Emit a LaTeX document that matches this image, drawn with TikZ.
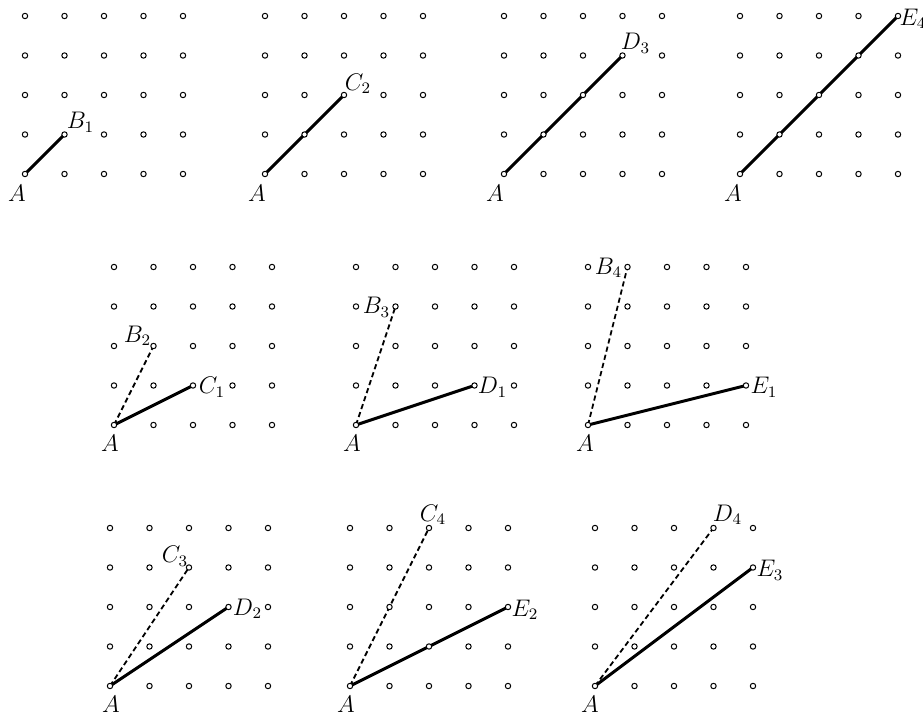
\documentclass[tikz,border=0pt]{standalone}
\newcommand\mkgrid[3]{%
  \foreach \i in {0,...,4}{\foreach \j in {0,...,4}{%
    \coordinate (#1-\i-\j) at ({#2+39.5*\i},{#3-39.5*\j});}}}
\newcommand\pl[2]{$#1_{#2}$}
\begin{document}
\begin{tikzpicture}[x=0.5pt,y=-0.5pt,
  seg/.style={line width=1.5pt},
  dsh/.style={line width=0.9pt, dash pattern=on 2.6pt off 1.6pt},
  dotc/.style={draw, fill=white, line width=0.5pt},
  lab/.style={inner sep=0pt, font=\fontsize{12}{14}\selectfont}]
\useasboundingbox (0,0) rectangle (923,716);
% grids
\mkgrid{g1}{25}{174}
\mkgrid{g2}{265}{174}
\mkgrid{g3}{504}{174}
\mkgrid{g4}{740}{174}
\mkgrid{g5}{114}{425}
\mkgrid{g6}{356}{425}
\mkgrid{g7}{588}{425}
\mkgrid{g8}{110}{686}
\mkgrid{g9}{350}{686}
\mkgrid{g10}{595}{686}
% segments
\draw[seg] (g1-0-0) -- (g1-1-1);
\draw[seg] (g2-0-0) -- (g2-2-2);
\draw[seg] (g3-0-0) -- (g3-3-3);
\draw[seg] (g4-0-0) -- (g4-4-4);
\draw[dsh] (g5-0-0) -- (g5-1-2);
\draw[seg] (g5-0-0) -- (g5-2-1);
\draw[dsh] (g6-0-0) -- (g6-1-3);
\draw[seg] (g6-0-0) -- (g6-3-1);
\draw[dsh] (g7-0-0) -- (g7-1-4);
\draw[seg] (g7-0-0) -- (g7-4-1);
\draw[dsh] (g8-0-0) -- (g8-2-3);
\draw[seg] (g8-0-0) -- (g8-3-2);
\draw[dsh] (g9-0-0) -- (g9-2-4);
\draw[seg] (g9-0-0) -- (g9-4-2);
\draw[dsh] (g10-0-0) -- (g10-3-4);
\draw[seg] (g10-0-0) -- (g10-4-3);
% dots
\foreach \g in {g1,g2,g3,g4,g5,g6,g7,g8,g9,g10}{%
  \foreach \i in {0,...,4}{\foreach \j in {0,...,4}{%
    \draw[dotc] (\g-\i-\j) circle[radius=1.35pt];}}}
% A labels
\node[lab] (a1) at ([shift={(-8,19)}]g1-0-0) {$A$};
\node[lab] (a2) at ([shift={(-8,19)}]g2-0-0) {$A$};
\node[lab] (a3) at ([shift={(-9,19)}]g3-0-0) {$A$};
\node[lab] (a4) at ([shift={(-7,19)}]g4-0-0) {$A$};
\node[lab] (a5) at ([shift={(-4,18)}]g5-0-0) {$A$};
\node[lab] (a6) at ([shift={(-4,18)}]g6-0-0) {$A$};
\node[lab] (a7) at ([shift={(-3,18)}]g7-0-0) {$A$};
\node[lab] (a8) at ([shift={(1,18)}]g8-0-0) {$A$};
\node[lab] (a9) at ([shift={(-4,18)}]g9-0-0) {$A$};
\node[lab] (a10) at ([shift={(-5,18)}]g10-0-0) {$A$};
% point labels
\node[lab] (lB1) at ([shift={(16,-12)}]g1-1-1) {\pl{B}{1}};
\node[lab] (lC2) at ([shift={(14,-11)}]g2-2-2) {\pl{C}{2}};
\node[lab] (lD3) at ([shift={(13,-12)}]g3-3-3) {\pl{D}{3}};
\node[lab] (lE4) at ([shift={(15,3)}]g4-4-4) {\pl{E}{4}};
\node[lab] (lB2) at ([shift={(-16,-10)}]g5-1-2) {\pl{B}{2}};
\node[lab] (lC1) at ([shift={(19,2)}]g5-2-1) {\pl{C}{1}};
\node[lab] (lB3) at ([shift={(-19,1)}]g6-1-3) {\pl{B}{3}};
\node[lab] (lD1) at ([shift={(18,2)}]g6-3-1) {\pl{D}{1}};
\node[lab] (lB4) at ([shift={(-19,1)}]g7-1-4) {\pl{B}{4}};
\node[lab] (lE1) at ([shift={(18,2)}]g7-4-1) {\pl{E}{1}};
\node[lab] (lC3) at ([shift={(-14,-11)}]g8-2-3) {\pl{C}{3}};
\node[lab] (lD2) at ([shift={(19,2)}]g8-3-2) {\pl{D}{2}};
\node[lab] (lC4) at ([shift={(4,-13)}]g9-2-4) {\pl{C}{4}};
\node[lab] (lE2) at ([shift={(17,3)}]g9-4-2) {\pl{E}{2}};
\node[lab] (lD4) at ([shift={(14,-13)}]g10-3-4) {\pl{D}{4}};
\node[lab] (lE3) at ([shift={(17,3)}]g10-4-3) {\pl{E}{3}};
\end{tikzpicture}
\end{document}
